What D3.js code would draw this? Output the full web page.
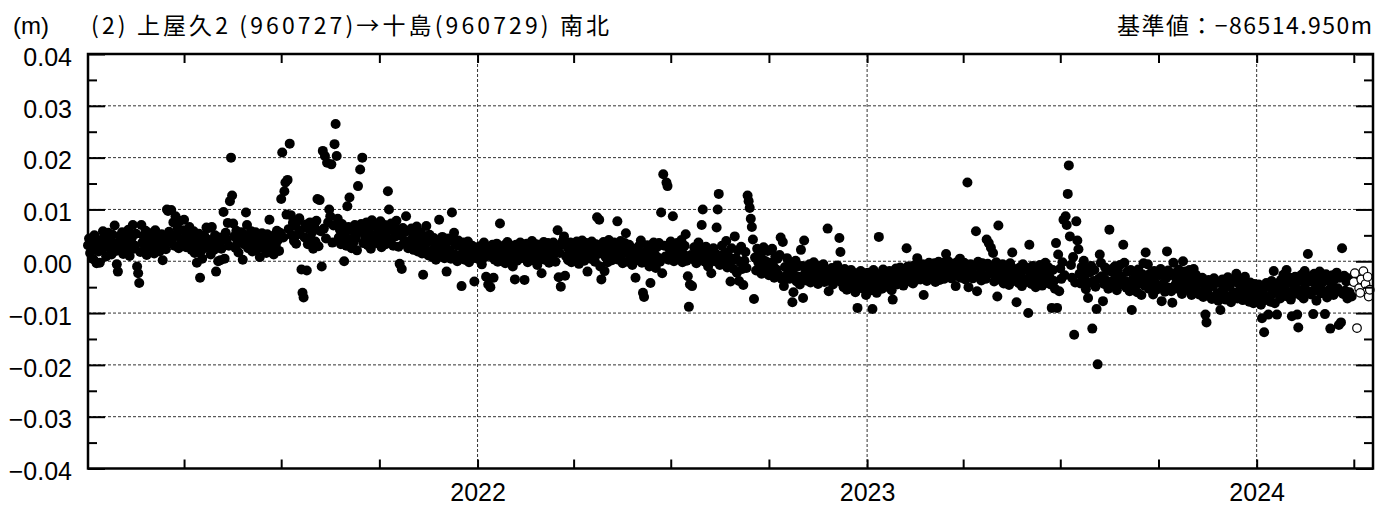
<!DOCTYPE html>
<html>
<head>
<meta charset="utf-8">
<script src="https://cdn.jsdelivr.net/npm/d3@7"></script>
<style>
  body { margin: 0; background: #fff; }
  svg { display: block; }
</style>
</head>
<body>
<svg id="chart" width="1391" height="508"></svg>
<script>
// labels
var unitLabel = "(m)";
var titleLeft = "(2) 上屋久2 (960727)→十島(960729)  南北";
var titleRight = "基準値：−86514.950m";

// axis ticks
var yMajor = [0.04, 0.03, 0.02, 0.01, 0, -0.01, -0.02, -0.03, -0.04];
var yMinor = [0.035, 0.025, 0.015, 0.005, -0.005, -0.015, -0.025, -0.035];
var yGrid = [0.03, 0.02, 0.01, 0, -0.01, -0.02, -0.03];
var yearTicks = ["2022-01-01", "2023-01-01", "2024-01-01"];
var yearLabels = ["2022", "2023", "2024"];

// daily values (mm), one per day starting Jan 1 of each year
var mm2021 = [
  3.1, 4.4, 1.6, 3.8, 2.5, 0.4, 5.0, 2.9, -0.4, 4.1,
  1.9, -0.3, 3.4, 2.2, 5.8, 4.6, 3.0, 0.9, 3.9, 5.5,
  2.6, 4.2, 1.3, 5.1, 3.3, 6.9, 2.0, -0.6, -2.0, 3.7,
  4.9, 2.7, 5.6, 1.4, 3.6, 4.7, 2.3, 3.2, 6.1, 1.0,
  3.9, 4.5, 7.0, 2.4, 3.0, 5.3, -1.0, -2.3, -4.2, 1.8,
  7.0, 3.6, 4.9, 2.1, 5.9, 1.2, 3.8, 4.6, 2.8, 5.4,
  3.4, 4.3, 1.5, 6.0, 2.6, 3.9, 5.0, 1.9, 3.5, 5.2,
  0.2, 3.1, 4.8, 2.3, 10.0, 9.7, 5.7, 3.7, 9.9, 4.4,
  7.5, 3.0, 8.7, 5.2, 6.4, 2.5, 7.8, 4.3, 3.4, 6.0,
  8.0, 4.1, 2.7, 5.5, 3.2, 6.6, 4.6, 2.2, 3.9, 5.8,
  1.6, 4.4, -0.3, 3.0, 5.3, -3.2, 2.0, 0.5, 3.8, 4.9,
  2.6, 6.5, 4.2, 6.4, 3.4, 1.3, 6.6, 3.9, 2.2, 5.0,
  -2.0, 3.3, 0.0, 4.6, 0.2, 2.4, 4.0, 9.5, 0.5, 5.5,
  4.2, 7.4, 3.0, 11.6, 20.0, 12.7, 7.3, 4.8, 2.6, 5.9,
  3.7, 1.7, 5.1, 4.0, 5.6, 0.3, 3.3, 4.5, 9.4, 7.0,
  2.5, 5.2, 3.4, 5.8, 1.9, 4.2, 3.6, 5.6, 2.3, 4.0,
  4.8, 0.8, 3.1, 5.4, 2.6, 4.5, 3.5, 1.6, 5.2, 3.0,
  8.0, 4.7, 2.4, 4.0, 1.3, 5.1, 3.2, 5.9, 4.1, 2.0,
  5.5, 12.0, 21.0, 4.6, 13.5, 15.2, 9.0, 15.7, 6.2, 22.7,
  8.9, 5.0, 7.4, 3.9, 6.8, 3.4, 7.7, 5.2, 8.3, 6.0,
  -1.6, -6.1, -7.0, 4.6, 7.1, -1.8, 3.3, 6.2, 7.5, 4.3,
  5.6, 2.4, 6.7, 3.8, 7.8, 12.0, 2.9, 11.8, 5.8, -1.0,
  21.3, 6.3, 20.3, 4.4, 19.0, 7.5, 10.0, 8.7, 18.7, 3.6,
  6.9, 22.6, 26.5, 20.3, 8.2, 4.6, 6.1, 3.3, 7.2, 4.0,
  0.0, 5.5, 3.0, 10.6, 6.6, 12.3, 4.3, 2.5, 6.0, 3.7,
  7.0, 4.5, 2.1, 14.5, 5.6, 17.7, 7.2, 20.0, 3.5, 6.2,
  4.7, 7.5, 3.1, 6.4, 5.3, 2.4, 7.9, 4.1, 6.8, 5.0,
  3.5, 7.1, 5.6, 4.0, 7.7, 2.7, 6.3, 4.6, 7.0, 3.3,
  5.7, 13.5, 10.0, 4.2, 7.3, 6.0, 3.0, 6.6, 4.8, 7.8,
  5.3, 2.8, -0.5, 5.0, -1.5, 6.4, 3.5, 5.6, 8.7, 3.8,
  2.5, 5.9, 3.2, 6.3, 4.4, 2.2, 5.4, 3.6, 6.7, 1.9,
  4.8, 2.9, 5.6, 1.5, -2.6, 4.2, 2.4, 6.8, 3.7, 1.1,
  5.1, 2.0, 3.9, 0.8, 4.5, 2.6, 0.3, 4.0, 1.7, 8.0,
  3.6, 1.2, 4.7, 2.3, 0.6, 3.2, -2.0, 1.6, 4.4, 2.1,
  0.5, 9.4, 3.8, 5.5, 1.3, 3.1, 0.0, 4.0, 1.0, 2.9,
  -4.8, 1.6, 3.6, 0.3, 2.8, 1.0, 3.8, -0.2, 2.4, 1.3,
  3.0, 0.6, -3.9, 2.0, 2.6
];

var mm2022 = [
  2.0, 0.4, 2.9, 1.2, -0.6, 2.5, 3.6, 0.8, -3.0, 1.6,
  -4.5, 2.7, -5.0, 0.9, 3.2, -3.2, 0.3, 2.0, 3.4, -0.1,
  1.7, 7.3, 2.5, 0.6, 1.3, 3.1, -0.4, 1.9, 3.7, 0.4,
  2.3, 0.9, 3.0, -1.0, 2.1, -3.5, 3.2, 0.1, 1.5, 2.6,
  3.6, 0.6, 2.0, 2.8, -3.6, 1.0, 3.4, -0.2, 1.7, 3.0,
  0.9, 3.9, 0.2, 2.3, 1.1, 3.3, -0.7, 2.1, 3.0, 0.5,
  -2.3, 1.8, 3.7, 0.3, 2.6, 1.0, 3.5, -0.3, 2.0, 2.9,
  0.7, 3.6, 2.2, -0.1, 3.0, 6.0, -3.1, 1.6, -4.9, 3.3,
  4.0, 4.8, -2.8, 0.9, 2.8, 0.2, 2.0, 3.6, -0.2, 2.6,
  1.2, 3.2, 0.4, 3.8, 1.7, -0.5, 2.8, 0.8, 4.0, 2.0,
  0.1, 2.4, 3.5, -2.0, 1.0, 3.0, 0.5, 3.8, 1.3, 2.5,
  -0.1, 3.3, 8.5, 1.4, 8.0, -1.0, -3.5, 2.3, 3.7, -1.9,
  0.8, 3.0, -0.2, 4.1, 1.6, 3.4, 0.2, 1.1, 3.6, 2.1,
  0.9, 7.7, 0.3, 3.0, 3.9, 1.2, -0.4, 2.6, 3.5, 5.4,
  1.7, -0.1, 3.2, 0.6, 2.6, -0.7, 1.1, 0.0, -3.2, 2.2,
  0.3, 2.9, 0.9, 4.0, -0.3, -6.1, -6.9, 1.7, 0.5, 3.1,
  1.1, -1.0, -4.2, 2.3, 0.2, 3.6, 1.3, -1.3, 2.7, 0.7,
  3.5, -0.1, 9.4, -2.3, 16.8, 3.0, 0.9, 15.2, 14.5, 0.3,
  2.3, 3.8, 1.1, 8.7, 0.0, 2.8, 1.5, 3.5, 0.4, 2.5,
  0.8, 4.1, -0.2, 1.4, 3.0, 5.2, 0.1, -2.9, -8.8, -4.5,
  1.2, -4.8, 0.4, 2.7, 0.7, -0.4, 2.1, 3.6, 0.2, 2.4,
  7.0, 10.0, 1.2, -0.1, 2.8, 0.8, -1.0, 2.0, 0.1, -2.3,
  1.0, 2.5, 0.0, 1.5, 6.5, 10.0, 13.0, -0.7, 1.1, 3.0,
  0.6, -0.3, 1.7, 3.9, -1.2, 1.0, -0.5, -3.9, 2.5, 0.2,
  -1.5, 4.8, 0.6, -2.2, 2.1, -3.8, -0.1, 2.8, -1.5, -4.6,
  0.1, 1.8, -1.3, 12.7, 11.6, 10.3, 8.2, 6.6, 4.2, -7.3,
  0.7, -1.8, 2.4, -0.2, -1.1, 1.6, -2.4, 0.4, 2.7, -1.6,
  0.0, -1.3, 2.0, -2.7, -0.3, -2.0, 2.4, -0.9, -3.2, 0.9,
  -1.6, 0.5, -2.6, 1.2, 4.6, -3.4, 3.7, -4.8, -1.1, -2.9,
  0.6, -2.2, -3.4, -0.6, -1.8, -7.9, -6.0, -2.7, 0.1, -3.9,
  -1.0, -3.0, -4.5, 2.2, -0.9, -7.1, 4.0, -2.3, -3.7, -1.4,
  -2.9, -0.6, -4.1, -1.7, -3.3, -0.2, -3.8, -2.1, -1.0, -4.4,
  -2.4, -0.9, -3.5, -2.7, -0.6, -4.0, -1.9, -2.5, 6.3, -5.8,
  -2.2, -3.4, -1.3, -4.5, -2.7, -1.5, -3.7, -0.8, -2.5, 4.5,
  1.8, -4.1, -2.4, -5.0, -1.5, -3.2, -5.5, -2.3, -4.3, -3.4,
  -1.7, -5.2, -2.9, -4.0, -6.0, -2.3, -9.0, -3.5, -4.7, -1.9,
  -5.2, -2.8, -4.4, -2.3, -6.5
];

var mm2023 = [
  -3.8, -2.2, -5.0, -2.9, -5.6, -9.2, -1.7, -4.5, -3.3, -6.1,
  -2.5, 4.7, -4.2, -3.0, -5.3, -1.6, -3.8, -4.8, -2.1, -4.0,
  -5.0, -1.9, -3.5, -5.6, -7.4, -2.6, -3.9, -1.4, -4.5, -2.3,
  -3.4, -1.2, -4.1, -2.0, -4.7, -1.6, -3.6, 2.5, -1.0, -3.0,
  -3.9, -1.4, -2.7, -4.3, -0.8, -3.2, -3.6, 0.6, -2.4, -1.2,
  -3.5, -2.0, -0.6, -6.5, -3.0, -0.9, -3.8, -1.6, -0.3, -3.1,
  -1.2, -3.3, -1.8, -0.4, -4.0, -1.4, -2.9, -0.1, -3.6, -1.3,
  -2.8, -0.3, -3.4, -0.9, 1.4, -2.4, 0.0, -3.0, -1.1, -3.3,
  -0.5, -2.6, -0.8, -4.8, -0.2, -2.9, -1.5, 0.5, -3.2, -1.0,
  -2.5, -0.3, -3.5, -1.2, 15.2, -5.0, -2.7, -0.6, -2.2, -3.3,
  -0.9, -3.0, 5.8, -5.8, -0.1, -2.5, -1.3, -3.7, -0.4, -2.8,
  -1.1, -3.4, 4.2, -0.5, 3.5, -2.3, 2.6, -1.4, 1.6, -3.9,
  -2.6, -0.2, -6.8, 6.9, -1.6, -3.6, -2.9, -0.6, -4.3, -1.8,
  -3.3, -1.1, -3.1, -4.6, -0.4, -2.7, 1.7, -3.8, -1.5, -3.2,
  -7.9, -1.9, -4.2, -1.2, -3.0, -4.8, -0.6, -3.5, -1.7, -4.0,
  -1.3, -10.0, 3.2, -2.8, -4.4, -0.9, -3.3, -2.0, -5.0, -1.5,
  -3.2, -3.9, -0.7, -2.9, -4.7, -1.6, -3.6, -0.3, -2.5, -4.2,
  -1.2, -3.1, -4.5, -9.0, -1.7, -3.8, -5.3, 3.5, -9.0, 1.3,
  -5.8, -1.4, -3.4, -0.2, 8.0, -2.7, 8.7, 7.0, 13.0, 18.5,
  4.8, -0.7, -3.2, 0.8, -14.2, -4.1, 7.7, 4.0, 2.3, -2.4,
  -4.3, -1.1, -3.6, 0.1, -2.9, -5.4, -1.5, -7.1, -4.2, -2.1,
  -0.9, -13.0, -3.8, -1.7, -4.9, -9.2, -19.9, -3.4, 1.3, -0.3,
  -2.9, -7.7, -4.4, -1.2, -3.7, -1.9, -5.3, 6.1, -1.6, -3.9,
  -2.1, -4.8, -1.0, -3.3, -5.6, -1.8, -4.1, -0.7, -3.0, -4.5,
  3.2, -0.3, -3.8, -5.1, -2.0, -4.2, -5.8, -1.7, -9.4, -3.5,
  -4.9, -2.2, -4.1, -6.0, -1.6, -4.3, -2.8, -6.5, -2.5, -0.4,
  -4.7, 1.7, -3.9, -0.6, -5.3, -2.4, -4.8, -3.0, -6.4, -1.9,
  -4.2, -5.5, -2.3, -5.0, -2.7, -1.5, -7.7, -4.4, -2.6, -5.9,
  -3.3, 1.9, -1.8, -5.1, -2.7, -5.8, -8.0, -0.3, -2.3, -4.5,
  -3.6, -5.3, -1.6, -4.7, -2.5, -6.3, 0.0, -4.0, -2.0, -5.2,
  -2.8, -5.6, -1.7, -4.4, -6.5, -3.3, -1.5, -5.0, -2.6, -5.7,
  -3.5, -6.4, -4.1, -6.0, -3.2, -6.9, -4.6, -10.3, -11.8, -5.5,
  -3.6, -6.7, -4.3, -7.3, -4.8, -3.3, -7.1, -3.9, -6.2, -7.6,
  -4.2, -9.4, -5.9, -3.5, -6.5, -4.6, -7.4, -5.0, -3.1, -6.8,
  -4.7, -7.9, -4.0, -6.3, -3.4, -6.1, -2.4, -7.2, -4.3, -5.7,
  -6.6, -3.7, -7.5, -4.8, -3.0, -7.0, -4.5, -6.2, -7.8, -4.1,
  -6.4, -5.0, -8.1, -4.4, -6.7
];

var mm2024 = [
  -5.3, -7.2, -4.5, -6.6, -8.4, -11.0, -5.7, -13.7, -7.5, -4.2,
  -6.9, -10.3, -5.0, -7.8, -3.8, -6.3, -1.9, -8.1, -5.2, -10.3,
  -6.1, -4.1, -7.2, -3.6, -5.8, -2.6, -5.1, -6.7, -1.7, -4.0,
  -6.0, -3.2, -7.4, -10.6, -4.5, -6.3, -3.0, -5.3, -10.3, -12.8,
  -3.8, -6.6, -2.6, -5.5, -7.2, -1.9, -4.3, -3.1, 1.4, -5.9,
  -2.9, -6.4, -4.0, -10.2, -2.4, -5.4, -7.6, -3.6, -5.0, -2.0,
  -6.2, -3.3, -5.7, -3.9, -10.2, -2.5, -7.0, -3.0, -5.5, -13.0,
  -4.2, -2.7, -6.5, -3.5, -6.0, -2.2, -5.2, -12.3, -3.2, -11.8,
  2.5, -6.3, -2.8, -5.7, -3.9, -7.2, -3.3, -6.0, -3.7, -6.8,
  -3.5
];

// provisional values (drawn as open circles)
var provDates = ["2024-04-01", "2024-04-02", "2024-04-04", "2024-04-06", "2024-04-07", "2024-04-08",
                 "2024-04-10", "2024-04-12", "2024-04-14", "2024-04-15", "2024-04-16"];
var provMM = [-4.0, -2.3, -12.9, -5.2, -6.1, -3.5, -1.9, -4.4, -3.0, -6.8, -5.5];

var W = 1391, H = 508;
var margin = {top: 54, right: 18, bottom: 39.5, left: 88};
var tickFont = "'Liberation Sans', Arial, sans-serif";
var jpFont = "'Noto Sans CJK JP', sans-serif";

var svg = d3.select("#chart");
var parseDay = d3.timeParse("%Y-%m-%d");

var x = d3.scaleTime()
  .domain([new Date(2021, 0, 1), new Date(2024, 3, 19)])
  .range([margin.left, W - margin.right]);
var y = d3.scaleLinear()
  .domain([-0.04, 0.04])
  .range([H - margin.bottom, margin.top]);

function dailyPoints(year, values) {
  var start = new Date(year, 0, 1);
  return values.map(function (v, i) {
    return {date: d3.timeDay.offset(start, i), value: v / 1000};
  });
}

var points = [].concat(
  dailyPoints(2021, mm2021),
  dailyPoints(2022, mm2022),
  dailyPoints(2023, mm2023),
  dailyPoints(2024, mm2024)
);
var provPoints = provDates.map(function (d, i) {
  return {date: parseDay(d), value: provMM[i] / 1000};
});

// dashed grid
var grid = svg.append("g").attr("stroke", "#333").attr("stroke-width", 1).attr("stroke-dasharray", "3,2");
grid.selectAll("line.h").data(yGrid).enter().append("line")
  .attr("class", "h")
  .attr("x1", margin.left).attr("x2", W - margin.right)
  .attr("y1", function (d) { return y(d); }).attr("y2", function (d) { return y(d); });
grid.selectAll("line.v").data(yearTicks.map(parseDay)).enter().append("line")
  .attr("class", "v")
  .attr("x1", function (d) { return x(d); }).attr("x2", function (d) { return x(d); })
  .attr("y1", margin.top).attr("y2", H - margin.bottom);

// data
svg.append("g").selectAll("circle").data(points).enter().append("circle")
  .attr("cx", function (d) { return x(d.date); })
  .attr("cy", function (d) { return y(d.value); })
  .attr("r", 5)
  .attr("fill", "#000");

svg.append("g").selectAll("circle").data(provPoints).enter().append("circle")
  .attr("cx", function (d) { return x(d.date); })
  .attr("cy", function (d) { return y(d.value); })
  .attr("r", 4.3)
  .attr("fill", "#fff")
  .attr("stroke", "#000")
  .attr("stroke-width", 1.2);

// frame
svg.append("rect")
  .attr("x", margin.left).attr("y", margin.top)
  .attr("width", W - margin.left - margin.right)
  .attr("height", H - margin.top - margin.bottom)
  .attr("fill", "none").attr("stroke", "#000").attr("stroke-width", 2.5);

function styleAxis(g) {
  g.select(".domain").remove();
  g.selectAll(".tick line").attr("stroke", "#000").attr("stroke-width", 2);
  g.selectAll(".tick text").attr("fill", "#000")
    .style("font-family", tickFont).style("font-size", "25px");
}

var quarters = d3.timeMonth.every(3).range(new Date(2021, 3, 1), new Date(2024, 3, 19));
var fmtY = d3.format(".2f");

svg.append("g").attr("transform", "translate(" + margin.left + ",0)")
  .call(d3.axisLeft(y).tickValues(yMajor).tickSize(-17).tickPadding(16).tickFormat(fmtY))
  .call(styleAxis)
  .selectAll(".tick text").attr("dy", "0.45em");
svg.append("g").attr("transform", "translate(" + margin.left + ",0)")
  .call(d3.axisLeft(y).tickValues(yMinor).tickSize(-9).tickFormat(""))
  .call(styleAxis);
svg.append("g").attr("transform", "translate(" + (W - margin.right) + ",0)")
  .call(d3.axisRight(y).tickValues(yMajor).tickSize(-17).tickFormat(""))
  .call(styleAxis);
svg.append("g").attr("transform", "translate(" + (W - margin.right) + ",0)")
  .call(d3.axisRight(y).tickValues(yMinor).tickSize(-9).tickFormat(""))
  .call(styleAxis);
svg.append("g").attr("transform", "translate(0," + margin.top + ")")
  .call(d3.axisTop(x).tickValues(quarters).tickSize(-9).tickFormat(""))
  .call(styleAxis);
svg.append("g").attr("transform", "translate(0," + (H - margin.bottom) + ")")
  .call(d3.axisBottom(x).tickValues(quarters).tickSize(-9).tickFormat(""))
  .call(styleAxis);
svg.append("g").attr("transform", "translate(0," + (H - margin.bottom) + ")")
  .call(d3.axisBottom(x).tickValues(yearTicks.map(parseDay)).tickSize(0).tickPadding(15)
    .tickFormat(function (d, i) { return yearLabels[i]; }))
  .call(styleAxis);

// titles
svg.append("text")
  .attr("x", 13).attr("y", 34)
  .style("font-family", tickFont).style("font-size", "24px")
  .text(unitLabel);
svg.append("text")
  .attr("x", 91).attr("y", 34)
  .attr("textLength", 518).attr("lengthAdjust", "spacing")
  .style("font-family", jpFont).style("font-size", "23px")
  .text(titleLeft);
svg.append("text")
  .attr("x", 1117).attr("y", 34)
  .attr("textLength", 255).attr("lengthAdjust", "spacing")
  .style("font-family", jpFont).style("font-size", "23px")
  .text(titleRight);
</script>
</body>
</html>
